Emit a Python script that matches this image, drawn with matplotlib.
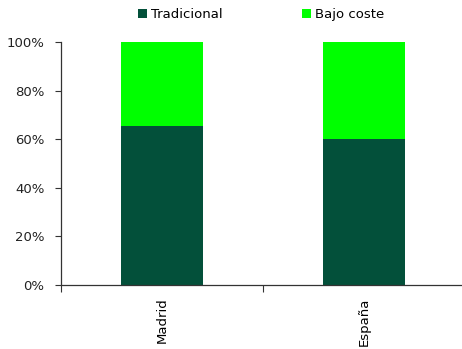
import matplotlib
matplotlib.use("Agg")
import matplotlib.pyplot as plt
from matplotlib.ticker import PercentFormatter

# shares of passengers by carrier type
regions = ["Madrid", "España"]
tradicional = [65.4, 60.1]
bajo_coste = [34.6, 39.9]

c_trad = "#03503A"
c_low = "#00FF00"

plt.rcParams["font.family"] = ["DejaVu Sans"]
plt.rcParams["font.size"] = 9.5

fig = plt.figure(figsize=(4.62, 3.49), dpi=100)
ax = fig.add_axes([61 / 462, 1 - 285 / 349, 404 / 462, 243 / 349])

x = range(len(regions))
ax.bar(x, tradicional, width=0.405, color=c_trad, label="Tradicional")
ax.bar(x, bajo_coste, width=0.405, bottom=tradicional, color=c_low, label="Bajo coste")

ax.set_xlim(-0.5, 1.5)
ax.set_ylim(0, 100)
ax.set_yticks(range(0, 101, 20))
ax.yaxis.set_major_formatter(PercentFormatter(decimals=0))

# category labels in between boundary ticks
ax.set_xticks([-0.5, 0.5, 1.5])
ax.set_xticklabels([])
ax.set_xticks(list(x), minor=True)
ax.set_xticklabels(regions, minor=True, rotation=90, va="top", ha="center")
ax.tick_params(axis="x", which="minor", length=0, pad=9)
ax.tick_params(axis="x", which="major", length=5, direction="out", color="#333333")
ax.tick_params(axis="y", length=4, direction="out", color="#333333", pad=8,
               labelcolor="#222222")

for s in ["top", "right"]:
    ax.spines[s].set_visible(False)
for s in ["left", "bottom"]:
    ax.spines[s].set_color("#333333")
    ax.spines[s].set_linewidth(0.9)

fig.legend(loc="upper center", bbox_to_anchor=(0.565, 1.01), ncol=2, frameon=False,
           handlelength=0.7, handleheight=0.7, handletextpad=0.3, columnspacing=6.0)

fig.savefig("out.png", dpi=100)
